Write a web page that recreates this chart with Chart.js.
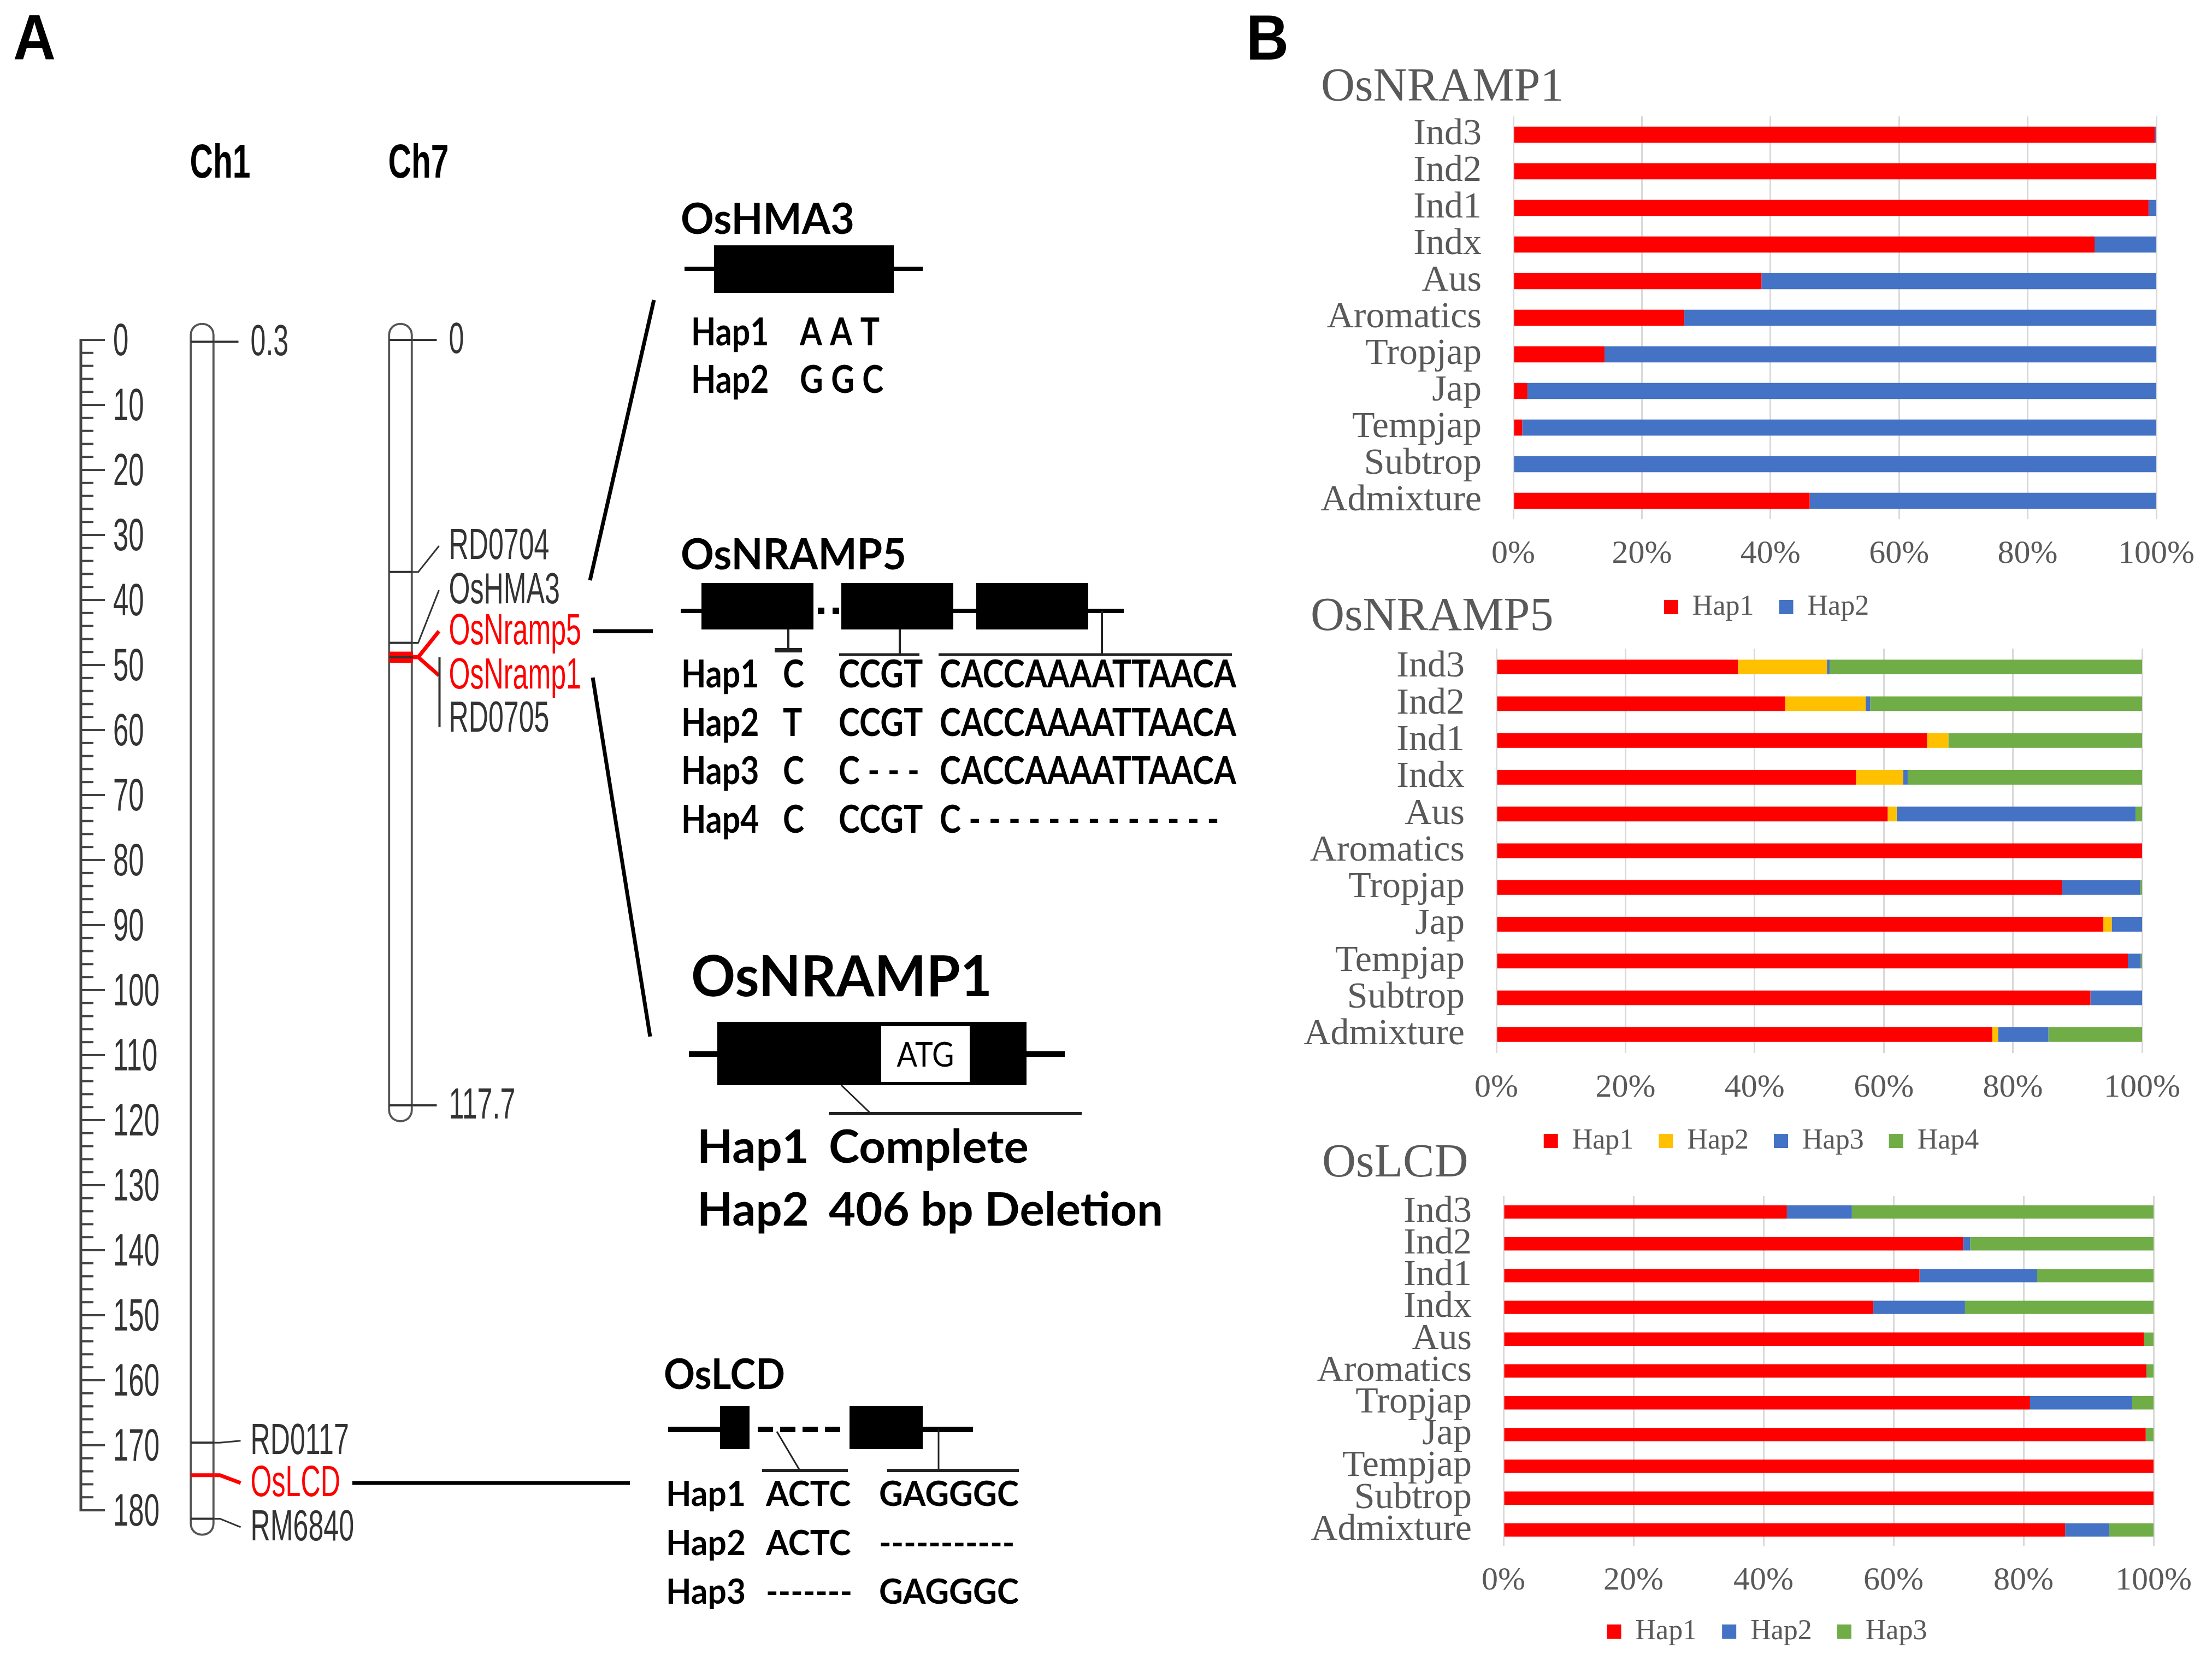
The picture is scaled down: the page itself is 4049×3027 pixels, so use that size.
<!DOCTYPE html>
<html lang="en">
<head>
<meta charset="utf-8">
<title>Haplotypes of OsHMA3, OsNRAMP5, OsNRAMP1 and OsLCD</title>
<script src="https://cdn.jsdelivr.net/npm/chart.js@4.4.1/dist/chart.umd.min.js"></script>
<style>
  html, body { margin: 0; padding: 0; background: #fff; }
  body { position: relative; width: 4049px; height: 3027px; overflow: hidden; }
  .wrap { position: absolute; }
</style>
</head>
<body>
<div class="wrap" style="left:0;top:0;width:2400px;height:3027px"><canvas id="mapChart"></canvas></div>
<div class="wrap" style="left:2388px;top:101px;width:1661px;height:1046px"><canvas id="nramp1Chart"></canvas></div>
<div class="wrap" style="left:2369px;top:1070px;width:1680px;height:1054px"><canvas id="nramp5Chart"></canvas></div>
<div class="wrap" style="left:2390px;top:2070px;width:1659px;height:952px"><canvas id="lcdChart"></canvas></div>
<script>
// ---------- panel B data (percent of accessions per haplotype) ----------
const groups = ['Ind3', 'Ind2', 'Ind1', 'Indx', 'Aus', 'Aromatics', 'Tropjap', 'Jap', 'Tempjap', 'Subtrop', 'Admixture'];
const pctTicks = [0, 20, 40, 60, 80, 100];

const nramp1Hap1 = [99.8, 100, 98.8, 90.4, 38.6, 26.6, 14.2, 2.2, 1.4, 0, 46.1];
const nramp1Hap2 = [0.2, 0, 1.2, 9.6, 61.4, 73.4, 85.8, 97.8, 98.6, 100, 53.9];

const nramp5Hap1 = [37.4, 44.7, 66.7, 55.7, 60.6, 100, 87.6, 94.0, 97.8, 92.0, 76.8];
const nramp5Hap2 = [13.8, 12.5, 3.3, 7.3, 1.4, 0, 0, 1.3, 0, 0, 0.9];
const nramp5Hap3 = [0.4, 0.7, 0, 0.7, 37.0, 0, 12.1, 4.7, 2.0, 8.0, 7.8];
const nramp5Hap4 = [48.4, 42.1, 30.0, 36.3, 1.0, 0, 0.3, 0, 0.2, 0, 14.5];

const lcdHap1 = [43.6, 70.7, 64.0, 56.9, 98.5, 98.9, 81.0, 98.8, 100, 100, 86.4];
const lcdHap2 = [10.0, 1.1, 18.1, 14.1, 0, 0, 15.7, 0, 0, 0, 6.8];
const lcdHap3 = [46.4, 28.2, 17.9, 29.0, 1.5, 1.1, 3.3, 1.2, 0, 0, 6.8];

// ---------- panel A data (genetic map, cM) ----------
const rulerTicks = [0, 10, 20, 30, 40, 50, 60, 70, 80, 90, 100, 110, 120, 130, 140, 150, 160, 170, 180];
const chromosomes = ['Ch1', 'Ch7'];
const chromEnd = [181.3, 117.7];
const ch1Markers = ['0.3', 'RD0117', 'OsLCD', 'RM6840'];
const ch1Pos = [0.3, 169.6, 174.6, 181.3];
const ch1LabelPos = [0.3, 169.3, 175.8, 182.6];
const ch7Markers = ['0', 'RD0704', 'OsHMA3', 'OsNramp5', 'OsNramp1', 'RD0705', '117.7'];
const ch7Pos = [0, 35.7, 46.6, 48.8, 48.8, 48.8, 117.7];
const ch7LabelPos = [0, 31.7, 38.5, 44.8, 51.6, 58.2, 117.7];
const redGenes = ['OsLCD', 'OsNramp5', 'OsNramp1'];

const hma3Haps = [['Hap1', 'A A T'], ['Hap2', 'G G C']];
const nramp5Haps = [
  ['Hap1', 'C', 'CCGT', 'CACCAAAATTAACA'],
  ['Hap2', 'T', 'CCGT', 'CACCAAAATTAACA'],
  ['Hap3', 'C', 'C - - -', 'CACCAAAATTAACA'],
  ['Hap4', 'C', 'CCGT', 'C - - - - - - - - - - - - -']
];
const nramp1Haps = [['Hap1', 'Complete'], ['Hap2', '406 bp Deletion']];
const lcdHaps = [['Hap1', 'ACTC', 'GAGGGC'], ['Hap2', 'ACTC', '-----------'], ['Hap3', '-------', 'GAGGGC']];

const RED = '#ff0000', GOLD = '#ffc000', BLUE = '#4472c4', GREEN = '#70ad47';
const GREY_TXT = '#595959';
const SERIF = '"Liberation Serif", "Times New Roman", serif';
const SANS = '"Liberation Sans", Arial, sans-serif';
const GENE = 'Lato, "Open Sans", sans-serif';

// the category axis clips its labels to its own box; let long names use the left padding too
const labelRoom = {
  id: 'labelRoom',
  afterLayout(chart) { chart.scales.y.left = 0; }
};

// ---------- stacked bar charts (panel B) ----------
function hapChart(id, title, sets, box) {
  return new Chart(document.getElementById(id), {
    type: 'bar',
    data: {
      labels: groups,
      datasets: sets.map(s => ({
        label: s.label,
        data: s.data,
        backgroundColor: s.color,
        borderWidth: 0,
        barPercentage: box.bar,
        categoryPercentage: 1
      }))
    },
    options: {
      indexAxis: 'y',
      responsive: true,
      maintainAspectRatio: false,
      animation: false,
      devicePixelRatio: 1,
      events: [],
      layout: { padding: { left: 30, right: 0, top: 0, bottom: 0 } },
      scales: {
        x: {
          stacked: true,
          min: 0,
          max: 100,
          afterBuildTicks: s => { s.ticks = pctTicks.map(v => ({ value: v })); },
          // keep room on the right for the last tick label, legend still spans the full width
          afterFit: s => { s.height = box.xH; s.paddingLeft = 0; s.paddingRight = box.padR; },
          ticks: { callback: v => v + '%', font: { family: SERIF, size: 60 }, color: GREY_TXT, padding: 28, maxRotation: 0, autoSkip: false },
          grid: { color: '#d9d9d9', lineWidth: 3, drawTicks: false },
          border: { display: false }
        },
        y: {
          stacked: true,
          afterFit: s => { s.width = box.yW; s.paddingTop = 0; s.paddingBottom = 0; },
          ticks: { font: { family: SERIF, size: 68 }, color: GREY_TXT, padding: 58, autoSkip: false },
          grid: { display: false, drawTicks: false },
          border: { display: false }
        }
      },
      plugins: {
        title: {
          display: true,
          text: title,
          align: 'start',
          color: GREY_TXT,
          font: { family: SERIF, size: 86, weight: 'normal' },
          padding: { top: 8.4, bottom: box.titleBottom }
        },
        legend: {
          position: 'bottom',
          labels: { boxWidth: 26, boxHeight: 26, padding: 46, color: GREY_TXT, font: { family: SERIF, size: 52 } }
        },
        tooltip: { enabled: false }
      }
    },
    plugins: [labelRoom]
  });
}

hapChart('nramp1Chart', 'OsNRAMP1', [
  { label: 'Hap1', data: nramp1Hap1, color: RED },
  { label: 'Hap2', data: nramp1Hap2, color: BLUE }
], { yW: 352, padR: 102, xH: 89, titleBottom: 0.4, bar: 0.44 });

hapChart('nramp5Chart', 'OsNRAMP5', [
  { label: 'Hap1', data: nramp5Hap1, color: RED },
  { label: 'Hap2', data: nramp5Hap2, color: GOLD },
  { label: 'Hap3', data: nramp5Hap3, color: BLUE },
  { label: 'Hap4', data: nramp5Hap4, color: GREEN }
], { yW: 340, padR: 128, xH: 89, titleBottom: 5.4, bar: 0.40 });

hapChart('lcdChart', 'OsLCD', [
  { label: 'Hap1', data: lcdHap1, color: RED },
  { label: 'Hap2', data: lcdHap2, color: BLUE },
  { label: 'Hap3', data: lcdHap3, color: GREEN }
], { yW: 332, padR: 107, xH: 85, titleBottom: 7.4, bar: 0.42 });

// ---------- drawing helpers for panel A ----------
function txt(ctx, s, x, y, st, color, align, base) {
  ctx.save();
  ctx.translate(x, y);
  ctx.scale(st.sx, 1);
  ctx.font = st.font;
  ctx.fillStyle = color || '#000';
  ctx.textAlign = align || 'left';
  ctx.textBaseline = base || 'alphabetic';
  ctx.fillText(s, 0, 0);
  ctx.restore();
}

function seg(ctx, pts, w, color, dash) {
  ctx.save();
  ctx.beginPath();
  ctx.lineWidth = w;
  ctx.strokeStyle = color;
  ctx.lineJoin = 'round';
  if (dash) ctx.setLineDash(dash);
  pts.forEach((p, i) => i ? ctx.lineTo(p[0], p[1]) : ctx.moveTo(p[0], p[1]));
  ctx.stroke();
  ctx.restore();
}

function rect(ctx, x1, y1, x2, y2, fill) {
  ctx.fillStyle = fill;
  ctx.fillRect(x1, y1, x2 - x1, y2 - y1);
}

// font, reference string, width it has in the figure (the figure text is condensed)
const textSpecs = {
  letter: ['bold 116px ' + SANS, 'A', 78],
  head: ['bold 88px ' + SANS, 'Ch1', 111],
  ruler: ['84px ' + SANS, '100', 85],
  marker: ['80px ' + SANS, 'RD0704', 184],
  gTitle: ['bold 78px ' + GENE, 'OsNRAMP5', 413],
  gRow: ['bold 70px ' + GENE, 'CACCAAAATTAACA', 543],
  n1Title: ['bold 104px ' + GENE, 'OsNRAMP1', 551],
  n1Row: ['bold 84px ' + GENE, '406 bp Deletion', 612],
  atg: ['62px ' + GENE, 'ATG', 105],
  lcdTitle: ['bold 76px ' + GENE, 'OsLCD', 222],
  lcdRow: ['bold 64px ' + GENE, 'GAGGGC', 256]
};

function buildStyles(ctx) {
  const S = {};
  Object.keys(textSpecs).forEach(k => {
    const [font, ref, w] = textSpecs[k];
    ctx.save();
    ctx.font = font;
    S[k] = { font: font, sx: w / ctx.measureText(ref).width };
    ctx.restore();
  });
  return S;
}

function drawMarkers(ctx, bar, names, pos, lpos, Y, S) {
  const x1 = bar.x - bar.width / 2, x2 = bar.x + bar.width / 2;
  names.forEach((n, k) => {
    const red = redGenes.includes(n);
    const col = red ? RED : '#333';
    const y = Y(pos[k]), ly = Y(lpos[k]);
    const across = red ? (n === 'OsLCD' ? 7 : 20) : 4;
    seg(ctx, [[x1 + 2, y], [x2, y]], across, col);
    if (lpos[k] - pos[k] > 5) {
      seg(ctx, [[x2 + 49, y], [x2 + 49, ly + 16]], 4, '#333');
    } else if (Math.abs(ly - y) < 3) {
      seg(ctx, [[x2, y], [x2 + 44, y]], 4, col);
    } else {
      seg(ctx, [[x2, y], [x2 + 10, y], [x2 + 48, ly]], red ? 7 : 3, col);
    }
    txt(ctx, n, x2 + 66, ly + 2, S.marker, red ? RED : '#333', 'left', 'middle');
  });
}

function drawGenes(ctx, S) {
  // OsHMA3
  txt(ctx, 'OsHMA3', 1246, 428, S.gTitle);
  seg(ctx, [[1253, 492], [1689, 492]], 8, '#000');
  rect(ctx, 1307, 449, 1636, 536, '#000');
  hma3Haps.forEach((r, i) => {
    txt(ctx, r[0], 1265, 632 + i * 87, S.gRow);
    txt(ctx, r[1], 1464, 632 + i * 87, S.gRow);
  });

  // OsNRAMP5
  txt(ctx, 'OsNRAMP5', 1246, 1042, S.gTitle);
  seg(ctx, [[1246, 1118], [1284, 1118]], 8, '#000');
  rect(ctx, 1284, 1067, 1489, 1152, '#000');
  rect(ctx, 1497, 1112, 1509, 1124, '#000');
  rect(ctx, 1524, 1112, 1536, 1124, '#000');
  rect(ctx, 1540, 1067, 1745, 1152, '#000');
  seg(ctx, [[1745, 1118], [1787, 1118]], 8, '#000');
  rect(ctx, 1787, 1067, 1992, 1152, '#000');
  seg(ctx, [[1992, 1118], [2057, 1118]], 8, '#000');
  seg(ctx, [[1443, 1152], [1443, 1190]], 4, '#222');
  seg(ctx, [[1418, 1190], [1468, 1190]], 8, '#222');
  seg(ctx, [[1647, 1152], [1647, 1198]], 4, '#222');
  seg(ctx, [[1536, 1198], [1683, 1198]], 5, '#222');
  seg(ctx, [[2017, 1118], [2017, 1198]], 4, '#222');
  seg(ctx, [[1718, 1198], [2255, 1198]], 5, '#222');
  const n5x = [1247, 1433, 1535, 1720];
  nramp5Haps.forEach((r, i) => {
    r.forEach((s, j) => txt(ctx, s, n5x[j], 1258 + i * 88.5, S.gRow));
  });

  // OsNRAMP1
  txt(ctx, 'OsNRAMP1', 1265, 1823, S.n1Title);
  seg(ctx, [[1261, 1929], [1949, 1929]], 10, '#000');
  rect(ctx, 1313, 1870, 1879, 1986, '#000');
  rect(ctx, 1613, 1878, 1775, 1980, '#fff');
  txt(ctx, 'ATG', 1694, 1932, S.atg, '#000', 'center', 'middle');
  seg(ctx, [[1540, 1986], [1594, 2038]], 3, '#222');
  seg(ctx, [[1517, 2038], [1980, 2038]], 6, '#222');
  nramp1Haps.forEach((r, i) => {
    txt(ctx, r[0], 1276, 2128 + i * 115, S.n1Row);
    txt(ctx, r[1], 1517, 2128 + i * 115, S.n1Row);
  });

  // OsLCD
  txt(ctx, 'OsLCD', 1215, 2542, S.lcdTitle);
  seg(ctx, [[1223, 2616], [1318, 2616]], 10, '#000');
  rect(ctx, 1318, 2573, 1372, 2652, '#000');
  seg(ctx, [[1387, 2616], [1548, 2616]], 10, '#000', [28, 13]);
  rect(ctx, 1555, 2573, 1689, 2652, '#000');
  seg(ctx, [[1689, 2616], [1781, 2616]], 10, '#000');
  seg(ctx, [[1422, 2620], [1464, 2691]], 3, '#222');
  seg(ctx, [[1395, 2691], [1552, 2691]], 6, '#222');
  seg(ctx, [[1718, 2616], [1718, 2691]], 3, '#222');
  seg(ctx, [[1624, 2691], [1865, 2691]], 6, '#222');
  const lcdx = [1219, 1402, 1609];
  lcdHaps.forEach((r, i) => {
    r.forEach((s, j) => txt(ctx, s, lcdx[j], 2756 + i * 89.5, S.lcdRow));
  });
}

const mapPlugin = {
  id: 'mapDraw',
  afterDatasetsDraw(chart) {
    const ctx = chart.ctx;
    const ys = chart.scales.y;
    const Y = v => ys.getPixelForValue(v);
    const bars = chart.getDatasetMeta(0).data;
    const S = buildStyles(ctx);

    // panel letters
    txt(ctx, 'A', 24, 109, S.letter);
    txt(ctx, 'B', 2281, 109, S.letter);

    // cM ruler
    const rx = ys.left;
    seg(ctx, [[rx, Y(0) - 2], [rx, Y(180) + 2]], 5, '#444');
    for (let v = 0; v <= 180; v += 2) {
      const major = v % 10 === 0;
      seg(ctx, [[rx, Y(v)], [rx + (major ? 44 : 23), Y(v)]], 4, '#444');
    }
    ys.ticks.forEach(t => txt(ctx, String(t.value), rx + 59, Y(t.value) + 5, S.ruler, '#333', 'left', 'middle'));

    // chromosome names
    chart.data.labels.forEach((name, i) => {
      const b = bars[i];
      txt(ctx, name, b.x - b.width / 2, 325, S.head, '#000');
    });

    drawMarkers(ctx, bars[0], ch1Markers, ch1Pos, ch1LabelPos, Y, S);
    drawMarkers(ctx, bars[1], ch7Markers, ch7Pos, ch7LabelPos, Y, S);

    // links from the map to the gene structures
    seg(ctx, [[1080, 1062], [1197, 549]], 7, '#000');
    seg(ctx, [[1085, Y(44.8)], [1195, Y(44.8)]], 7, '#000');
    seg(ctx, [[1085, Y(51.6) + 4], [1190, 1897]], 7, '#000');
    seg(ctx, [[645, Y(175.8)], [1153, Y(175.8)]], 7, '#000');

    drawGenes(ctx, S);
  }
};

new Chart(document.getElementById('mapChart'), {
  type: 'bar',
  data: {
    labels: chromosomes,
    datasets: [{
      data: chromEnd.map(e => [-2.6, e + 2.6]),
      backgroundColor: '#fff',
      borderColor: '#555',
      borderWidth: 4,
      borderRadius: 22,
      borderSkipped: false,
      barThickness: 45
    }]
  },
  options: {
    responsive: true,
    maintainAspectRatio: false,
    animation: false,
    devicePixelRatio: 1,
    events: [],
    layout: { padding: { left: 148, right: 1485.5, top: 574.4, bottom: 191.6 } },
    scales: {
      x: { display: false },
      y: {
        reverse: true,
        min: -4,
        max: 186,
        afterBuildTicks: s => { s.ticks = rulerTicks.map(v => ({ value: v })); },
        afterFit: s => { s.width = 40.5; s.paddingTop = 0; s.paddingBottom = 0; },
        ticks: { display: false },
        grid: { display: false, drawTicks: false },
        border: { display: false }
      }
    },
    plugins: { legend: { display: false }, tooltip: { enabled: false } }
  },
  plugins: [mapPlugin]
});
</script>
</body>
</html>
